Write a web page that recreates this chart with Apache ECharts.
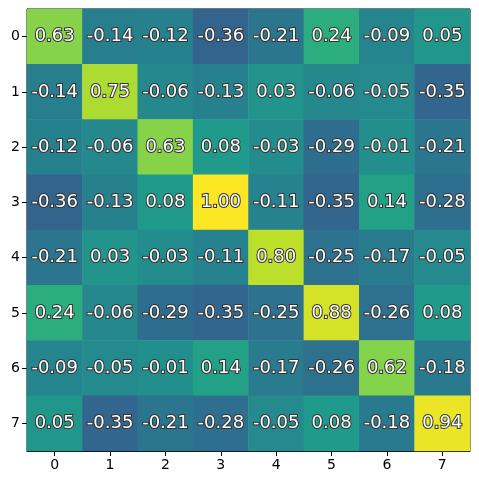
<!DOCTYPE html>
<html>
<head>
<meta charset="utf-8">
<script src="https://cdn.jsdelivr.net/npm/echarts@6/dist/echarts.min.js"></script>
<style>
  html, body { margin: 0; padding: 0; background: #fff; }
  #chart { width: 479px; height: 483px; }
</style>
</head>
<body>
<div id="chart"></div>
<script>
const labels = ['0', '1', '2', '3', '4', '5', '6', '7'];
const row0 = [0.63, -0.14, -0.12, -0.36, -0.21, 0.24, -0.09, 0.05];
const row1 = [-0.14, 0.75, -0.06, -0.13, 0.03, -0.06, -0.05, -0.35];
const row2 = [-0.12, -0.06, 0.63, 0.08, -0.03, -0.29, -0.01, -0.21];
const row3 = [-0.36, -0.13, 0.08, 1.00, -0.11, -0.35, 0.14, -0.28];
const row4 = [-0.21, 0.03, -0.03, -0.11, 0.80, -0.25, -0.17, -0.05];
const row5 = [0.24, -0.06, -0.29, -0.35, -0.25, 0.88, -0.26, 0.08];
const row6 = [-0.09, -0.05, -0.01, 0.14, -0.17, -0.26, 0.62, -0.18];
const row7 = [0.05, -0.35, -0.21, -0.28, -0.05, 0.08, -0.18, 0.94];
const rows = [row0, row1, row2, row3, row4, row5, row6, row7];

const viridis = ['#440154', '#482878', '#3e4989', '#31688e', '#26828e',
                 '#1f9e89', '#35b779', '#6ece58', '#b5de2b', '#fde725'];

let data = [];
rows.forEach((r, y) => {
    r.forEach((v, x) => {
        data.push([x, y, v]);
    });
});

const chart = echarts.init(document.getElementById('chart'));
chart.setOption({
    animation: false,
    grid: {
        left: 27,
        top: 9,
        width: 443,
        height: 442,
        show: true,
        borderColor: '#000',
        borderWidth: 1,
        backgroundColor: 'transparent'
    },
    xAxis: {
        type: 'category',
        data: labels,
        axisLine: { show: true, lineStyle: { color: '#000' } },
        axisTick: { show: true, alignWithLabel: true, length: 5, lineStyle: { color: '#000' } },
        axisLabel: { color: '#000', fontSize: 14, fontFamily: 'DejaVu Sans', margin: 7 },
        splitLine: { show: false }
    },
    yAxis: {
        type: 'category',
        data: labels,
        inverse: true,
        axisLine: { show: true, lineStyle: { color: '#000' } },
        axisTick: { show: true, alignWithLabel: true, length: 5, lineStyle: { color: '#000' } },
        axisLabel: { color: '#000', fontSize: 14, fontFamily: 'DejaVu Sans', margin: 7 },
        splitLine: { show: false }
    },
    visualMap: {
        show: false,
        min: -1,
        max: 1,
        dimension: 2,
        inRange: { color: viridis }
    },
    series: [{
        type: 'heatmap',
        data: data,
        label: {
            show: true,
            formatter: (p) => p.data[2].toFixed(2),
            color: '#fff',
            fontSize: 18,
            fontFamily: 'DejaVu Sans',
            textBorderColor: '#333',
            textBorderWidth: 2
        },
        itemStyle: { borderWidth: 0 }
    }]
});
</script>
</body>
</html>
